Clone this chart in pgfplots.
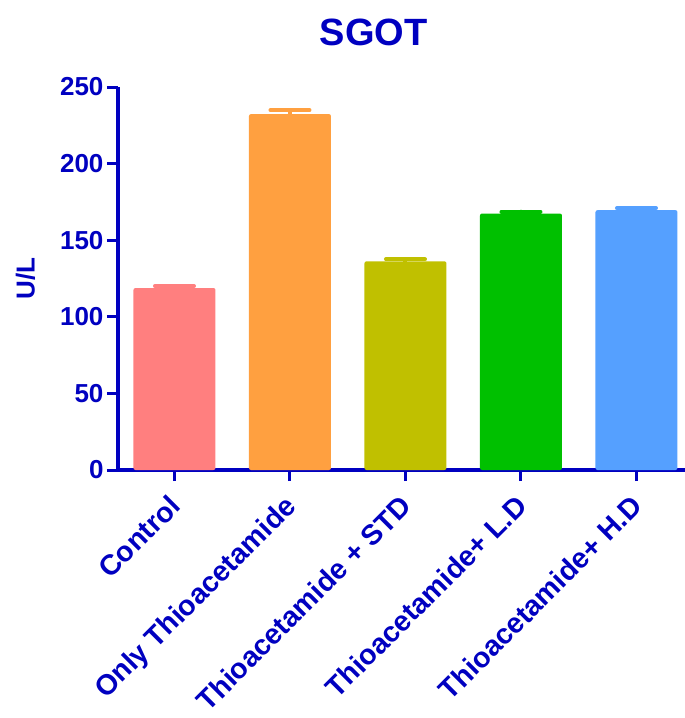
\documentclass[border=0pt]{standalone}
\usepackage{fontspec}
\setmainfont{Liberation Sans}
\usepackage{pgfplots}
\pgfplotsset{compat=1.18}
\usetikzlibrary{calc}

\definecolor{axblue}{HTML}{0000C0}
\definecolor{cctrl}{HTML}{FF7F7F}
\definecolor{conly}{HTML}{FFA040}
\definecolor{cstd}{HTML}{C0C000}
\definecolor{cld}{HTML}{00C000}
\definecolor{chd}{HTML}{55A0FF}

\pgfplotsset{
  sem/.style={fill=#1, draw=none, rounded corners=2pt,
    error bars/error bar style={line width=4pt, color=#1, line cap=round},
    error bars/error mark options={rotate=90, mark size=19.5pt, line width=4pt, color=#1, line cap=round}},
}

\begin{document}
\begin{tikzpicture}
\begin{axis}[
  scale only axis,
  width=567pt, height=383pt,
  xmin=-0.489, xmax=4.42,
  ymin=0, ymax=250,
  ytick={0,50,100,150,200,250},
  xtick={0,1,2,3,4},
  xticklabels={Control, Only Thioacetamide, Thioacetamide + STD, Thioacetamide+ L.D, Thioacetamide+ H.D},
  axis x line*=bottom, axis y line*=left,
  axis line style={line width=3.5pt, color=axblue, -},
  every tick/.style={line width=3pt, color=axblue},
  tick align=outside,
  major tick length=11pt,
  /pgf/number format/assume math mode=true,
  tick label style={font=\fontsize{26}{28}\selectfont\bfseries, color=axblue},
  xticklabel style={font=\fontsize{28.5}{31}\selectfont\bfseries, xshift=-7pt, yshift=-8pt, rotate=45, anchor=north east, inner sep=3pt},
  ylabel={U/L},
  ylabel style={font=\fontsize{26}{28}\selectfont\bfseries, color=axblue, yshift=18pt},
  title={SGOT},
  title style={font=\fontsize{38}{40}\selectfont\bfseries, color=axblue, xshift=-28pt, yshift=32pt},
  ybar, bar shift=0pt, bar width=0.71,
  clip=false,
  error bars/y dir=plus, error bars/y explicit,
]
\coordinate (O) at (rel axis cs:0,0);
% one bar per group, each with its own colour and SEM cap
\addplot[sem=cctrl] coordinates {(0,118.8) +- (0,1.3)};
\addplot[sem=conly] coordinates {(1,232.3) +- (0,2.6)};
\addplot[sem=cstd]  coordinates {(2,136.2) +- (0,1.3)};
\addplot[sem=cld]   coordinates {(3,167.4) +- (0,1.2)};
\addplot[sem=chd]   coordinates {(4,169.6) +- (0,1.3)};
\end{axis}
\pgfresetboundingbox
\path[use as bounding box] ($(O)+(-118pt,-248pt)$) rectangle ($(O)+(567pt,470pt)$);
\end{tikzpicture}
\end{document}
